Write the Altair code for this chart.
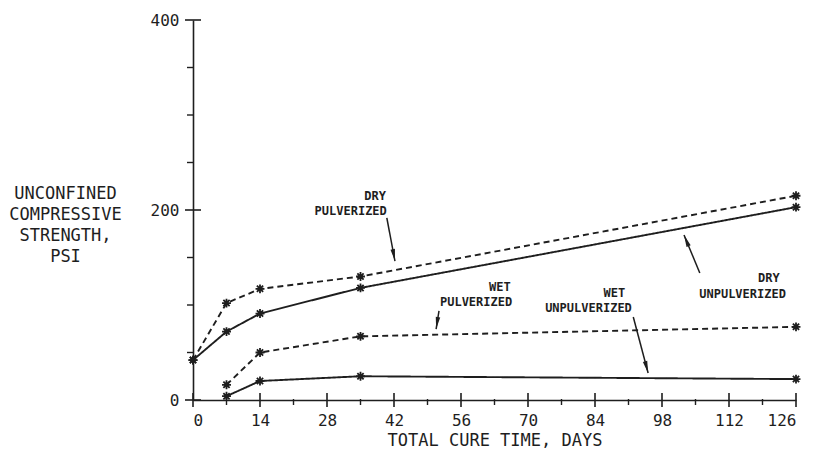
import math
import altair as alt
import pandas as pd

# Cure-time series (days) and unconfined compressive strength (psi)
days_dry = [0, 7, 14, 35, 126]
dry_pulverized = [42, 102, 117, 130, 215]
dry_unpulverized = [42, 72, 91, 118, 203]
days_wet = [7, 14, 35, 126]
wet_pulverized = [16, 50, 67, 77]
wet_unpulverized = [4, 20, 25, 22]

# Axis tick positions
x_major = list(range(0, 127, 14))
x_minor = list(range(7, 127, 14))
y_major = [0, 200, 400]
y_minor = [50, 100, 150, 250, 300, 350]

# Curve labels (right edge of each text line)
label_text = ["DRY", "PULVERIZED", "WET", "PULVERIZED",
              "WET", "UNPULVERIZED", "DRY", "UNPULVERIZED"]
label_day = [40.3, 40.5, 66.4, 66.7, 90.3, 91.7, 122.6, 123.9]
label_psi = [214.7, 199.0, 119.0, 103.0, 112.6, 96.8, 128.4, 111.6]

# Leader arrows: tail -> tip
arrow_from_day = [40.5, 51.4, 92.0, 105.9]
arrow_from_psi = [191.6, 93.7, 87.4, 133.7]
arrow_to_day = [42.2, 50.8, 95.1, 102.6]
arrow_to_psi = [146.3, 74.7, 28.4, 173.7]

W, H = 603, 380
X_MAX, Y_MAX = 126, 400
INK = "#1e1e1e"
FONT = "DejaVu Sans Mono"

xs = alt.Scale(domain=[0, X_MAX], nice=False, zero=False)
ys = alt.Scale(domain=[0, Y_MAX], nice=False)

rows = []
for d, v in zip(days_dry, dry_pulverized):
    rows.append({"day": d, "psi": v, "series": "dry_pulv", "dashed": True})
for d, v in zip(days_dry, dry_unpulverized):
    rows.append({"day": d, "psi": v, "series": "dry_unpulv", "dashed": False})
for d, v in zip(days_wet, wet_pulverized):
    rows.append({"day": d, "psi": v, "series": "wet_pulv", "dashed": True})
for d, v in zip(days_wet, wet_unpulverized):
    rows.append({"day": d, "psi": v, "series": "wet_unpulv", "dashed": False})
curves = pd.DataFrame(rows)

X = alt.X("day:Q", scale=xs,
          axis=alt.Axis(values=x_major, ticks=False, grid=False, domainColor=INK,
                        domainWidth=1.6, labelFont=FONT, labelFontSize=16,
                        labelColor=INK, labelPadding=12,
                        title="TOTAL CURE TIME, DAYS", titleFont=FONT,
                        titleFontSize=17, titleFontWeight="normal",
                        titleColor=INK, titlePadding=4))
Y = alt.Y("psi:Q", scale=ys,
          axis=alt.Axis(values=y_major, ticks=False, grid=False, domainColor=INK,
                        domainWidth=1.6, labelFont=FONT, labelFontSize=16,
                        labelColor=INK, labelPadding=14,
                        title=["UNCONFINED", "COMPRESSIVE", "STRENGTH,", "PSI"],
                        titleFont=FONT, titleFontSize=17, titleFontWeight="normal",
                        titleColor=INK, titleAngle=0, titleAlign="center",
                        titleBaseline="top", titleX=-128, titleY=165,
                        titleLineHeight=21))

dash_scale = alt.Scale(domain=[True, False], range=[[6, 4], [1, 0]])

lines = alt.Chart(curves).mark_line(color=INK, strokeWidth=1.9).encode(
    x=X, y=Y, detail="series:N",
    strokeDash=alt.StrokeDash("dashed:N", scale=dash_scale, legend=None),
)

# Asterisk-style plotting symbol
star = "M-1,0L1,0M0,-1L0,1M-0.7,-0.7L0.7,0.7M-0.7,0.7L0.7,-0.7"
points = alt.Chart(curves).mark_point(
    shape=star, size=80, filled=False, stroke=INK, strokeWidth=1.8, opacity=1
).encode(x=alt.X("day:Q", scale=xs), y=alt.Y("psi:Q", scale=ys))

# Tick marks crossing the axes
xt_major = alt.Chart(pd.DataFrame({"t": x_major})).mark_rule(
    color=INK, strokeWidth=1.6).encode(
    x=alt.X("t:Q", scale=xs), y=alt.value(H - 7), y2=alt.value(H + 7))
xt_minor = alt.Chart(pd.DataFrame({"t": x_minor})).mark_rule(
    color=INK, strokeWidth=1.4).encode(
    x=alt.X("t:Q", scale=xs), y=alt.value(H - 1), y2=alt.value(H + 5))
yt_major = alt.Chart(pd.DataFrame({"t": y_major})).mark_rule(
    color=INK, strokeWidth=1.6).encode(
    y=alt.Y("t:Q", scale=ys), x=alt.value(-8), x2=alt.value(8))
yt_minor = alt.Chart(pd.DataFrame({"t": y_minor})).mark_rule(
    color=INK, strokeWidth=1.4).encode(
    y=alt.Y("t:Q", scale=ys), x=alt.value(-6), x2=alt.value(0))

labels = alt.Chart(pd.DataFrame({"day": label_day, "psi": label_psi,
                                 "txt": label_text})).mark_text(
    font=FONT, fontSize=12, fontWeight="bold", color=INK,
    align="right", baseline="middle").encode(
    x=alt.X("day:Q", scale=xs), y=alt.Y("psi:Q", scale=ys), text="txt:N")

# Arrow heads rotated along each leader
px_day = W / X_MAX
px_psi = H / Y_MAX
angles = []
for x0, y0, x1, y1 in zip(arrow_from_day, arrow_from_psi, arrow_to_day, arrow_to_psi):
    dx = (x1 - x0) * px_day
    dy = -(y1 - y0) * px_psi
    angles.append(math.degrees(math.atan2(dx, -dy)) % 360)

arrows = pd.DataFrame({"x0": arrow_from_day, "y0": arrow_from_psi,
                       "x1": arrow_to_day, "y1": arrow_to_psi, "ang": angles})
shafts = alt.Chart(arrows).mark_rule(color=INK, strokeWidth=1.5).encode(
    x=alt.X("x0:Q", scale=xs), y=alt.Y("y0:Q", scale=ys),
    x2="x1:Q", y2="y1:Q")
heads = alt.Chart(arrows).mark_point(
    shape="M0,0L-0.45,2.4L0.45,2.4Z", size=100, filled=True, color=INK,
    opacity=1).encode(
    x=alt.X("x1:Q", scale=xs), y=alt.Y("y1:Q", scale=ys),
    angle=alt.Angle("ang:Q", scale=None))

chart = alt.layer(
    lines, xt_major, xt_minor, yt_major, yt_minor, points, shafts, heads, labels
).properties(
    width=W, height=H,
    autosize=alt.AutoSizeParams(type="none"),
    padding={"left": 193, "top": 20, "right": 21, "bottom": 66},
    background="white",
).configure_view(stroke=None)

chart.save("out.html", embed_options={"renderer": "svg", "actions": False})
